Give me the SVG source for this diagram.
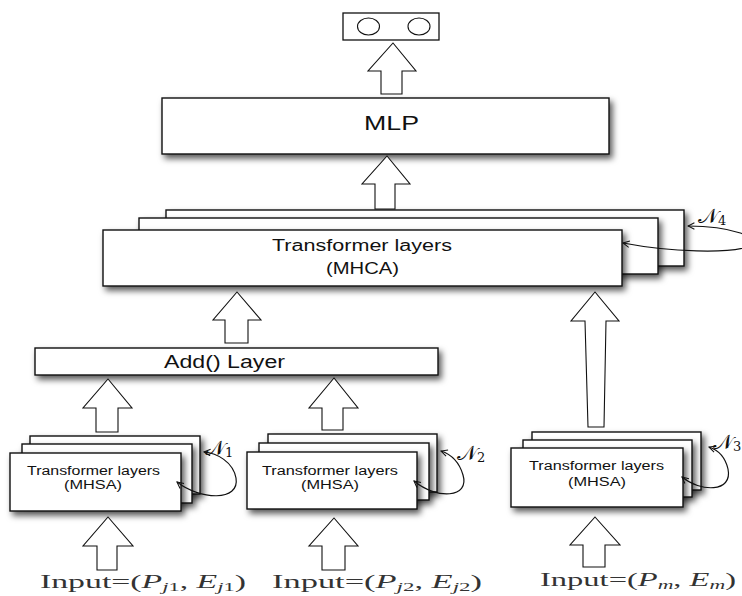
<svg xmlns="http://www.w3.org/2000/svg" width="742" height="596" viewBox="0 0 742 596">
<style>
.box{fill:#fff;stroke:#111;stroke-width:1.4;filter:url(#sh)}
.plain{fill:#fff;stroke:#111;stroke-width:1.3}
.blk{fill:#fff;stroke:#111;stroke-width:1.1;stroke-linejoin:miter}
.lbl{font-family:"Liberation Sans",Arial,sans-serif;fill:#111}
.math{font-family:"Liberation Serif","Times New Roman",serif;fill:#333;font-size:18px}
.nl{font-family:"DejaVu Serif","Liberation Serif",serif;fill:#111;font-size:21px}
.loop{fill:none;stroke:#111;stroke-width:1.2;marker-start:url(#ah);marker-end:url(#ah)}
.it{font-style:italic}
</style>
<defs>
<filter id="sh" x="-10%" y="-20%" width="125%" height="170%">
<feDropShadow dx="3" dy="4" stdDeviation="3" flood-color="#000" flood-opacity="0.65"/>
</filter>
<marker id="ah" viewBox="0 0 10 10" refX="9" refY="5" markerWidth="8" markerHeight="8" markerUnits="userSpaceOnUse" orient="auto-start-reverse">
<path d="M1,1 L9,5 L1,9" fill="none" stroke="#111" stroke-width="1.3"/>
</marker>
</defs>

<g id="output">
<rect class="plain" x="343" y="13" width="96" height="27"/>
<ellipse cx="368.5" cy="26.5" rx="11" ry="8.5" fill="#fff" stroke="#111" stroke-width="1.1"/>
<ellipse cx="419" cy="26.5" rx="11" ry="8.5" fill="#fff" stroke="#111" stroke-width="1.1"/>
</g>

<g id="mlp">
<rect class="box" x="162" y="98" width="447" height="56"/>
<text class="lbl" x="364" y="130" font-size="19.5" textLength="55" lengthAdjust="spacingAndGlyphs">MLP</text>
</g>

<g id="mhca">
<rect class="box" x="166" y="210" width="518" height="56"/>
<rect class="box" x="139" y="218" width="519" height="56"/>
<rect class="box" x="103" y="230" width="519" height="56"/>
<text class="lbl" x="272" y="251" font-size="16" textLength="180" lengthAdjust="spacingAndGlyphs">Transformer layers</text>
<text class="lbl" x="326" y="274" font-size="16" textLength="73" lengthAdjust="spacingAndGlyphs">(MHCA)</text>
</g>

<g id="add">
<rect class="box" x="35" y="348" width="403" height="27"/>
<text class="lbl" x="164" y="368" font-size="17.5" textLength="121" lengthAdjust="spacingAndGlyphs">Add() Layer</text>
</g>

<g id="mhsa1">
<rect class="box" x="30" y="436" width="170" height="58"/>
<rect class="box" x="22" y="444" width="170" height="59"/>
<rect class="box" x="10" y="453" width="171" height="58"/>
<text class="lbl" x="27" y="475" font-size="12.5" textLength="133" lengthAdjust="spacingAndGlyphs">Transformer layers</text>
<text class="lbl" x="64" y="489" font-size="12.5" textLength="58" lengthAdjust="spacingAndGlyphs">(MHSA)</text>
</g>

<g id="mhsa2">
<rect class="box" x="268" y="434" width="169" height="58"/>
<rect class="box" x="259" y="443" width="170" height="57"/>
<rect class="box" x="247" y="452" width="170" height="57"/>
<text class="lbl" x="262" y="475" font-size="12.5" textLength="136" lengthAdjust="spacingAndGlyphs">Transformer layers</text>
<text class="lbl" x="301" y="489" font-size="12.5" textLength="58" lengthAdjust="spacingAndGlyphs">(MHSA)</text>
</g>

<g id="mhsa3">
<rect class="box" x="532" y="432" width="169" height="58"/>
<rect class="box" x="523" y="440" width="169" height="57"/>
<rect class="box" x="511" y="448" width="172" height="59"/>
<text class="lbl" x="529" y="470" font-size="12.5" textLength="135" lengthAdjust="spacingAndGlyphs">Transformer layers</text>
<text class="lbl" x="568" y="486" font-size="12.5" textLength="58" lengthAdjust="spacingAndGlyphs">(MHSA)</text>
</g>

<g id="inputs">
<text class="math" x="40" y="588" textLength="206" lengthAdjust="spacingAndGlyphs">Input=(<tspan class="it">P</tspan><tspan font-size="12" dy="3"><tspan class="it">j</tspan>1</tspan><tspan dy="-3">, </tspan><tspan class="it">E</tspan><tspan font-size="12" dy="3"><tspan class="it">j</tspan>1</tspan><tspan dy="-3">)</tspan></text>
<text class="math" x="272" y="588" textLength="210" lengthAdjust="spacingAndGlyphs">Input=(<tspan class="it">P</tspan><tspan font-size="12" dy="3"><tspan class="it">j</tspan>2</tspan><tspan dy="-3">, </tspan><tspan class="it">E</tspan><tspan font-size="12" dy="3"><tspan class="it">j</tspan>2</tspan><tspan dy="-3">)</tspan></text>
<text class="math" x="540" y="586" textLength="196" lengthAdjust="spacingAndGlyphs">Input=(<tspan class="it">P</tspan><tspan font-size="12" dy="3" class="it">m</tspan><tspan dy="-3">, </tspan><tspan class="it">E</tspan><tspan font-size="12" dy="3" class="it">m</tspan><tspan dy="-3">)</tspan></text>
</g>

<g id="repeat-labels">
<text class="nl" x="205" y="455">𝒩<tspan font-size="13" dy="2">1</tspan></text>
<text class="nl" x="457" y="460">𝒩<tspan font-size="13" dy="2">2</tspan></text>
<text class="nl" x="713" y="449">𝒩<tspan font-size="13" dy="2">3</tspan></text>
<text class="nl" x="698" y="223">𝒩<tspan font-size="13" dy="2">4</tspan></text>
</g>

<g id="connectors">
<polygon class="blk" points="393,43 416,71 402,71 402,94 381,94 381,71 368,71"/>
<polygon class="blk" points="387,156 410,184 395,184 395,209 375,209 375,184 362,184"/>
<polygon class="blk" points="237,292 261,320 248,320 248,343 225,343 225,320 213,320"/>
<polygon class="blk" points="108,379 132,408 118,408 118,432 96,432 96,408 83,408"/>
<polygon class="blk" points="334,378 358,408 343,408 343,430 322,430 322,408 309,408"/>
<polygon class="blk" points="595,292 619,321 606,321 604,427 588,427 585,321 571,321"/>
<polygon class="blk" points="108,517 133,546 117,546 117,570 97,570 97,546 83,546"/>
<polygon class="blk" points="334,518 358,546 345,546 345,570 322,570 322,546 309,546"/>
<polygon class="blk" points="595,517 620,545 605,545 605,567 583,567 583,545 570,545"/>
<path class="loop" d="M177,482 C200,500 240,502 236,478 C233,462 217,453 204,452"/>
<path class="loop" d="M414,481 C437,500 470,498 463,475 C459,461 450,454 441,451"/>
<path class="loop" d="M682,477 C700,492 733,493 728,469 C725,456 718,450 709,447"/>
<path class="loop" d="M623,243 C670,252 730,254 750,246 C765,238 730,226 688,226"/>
</g>
</svg>
